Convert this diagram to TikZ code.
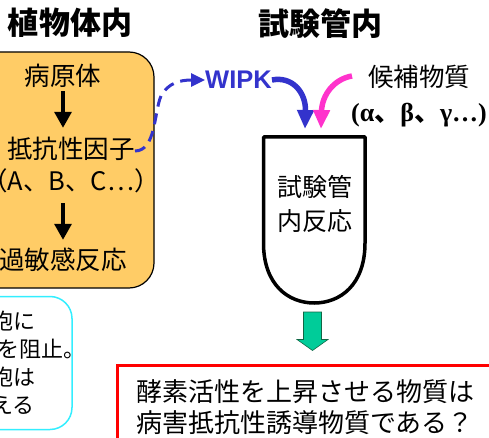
\documentclass[tikz,border=0pt]{standalone}
\usepackage{fontspec}
\setmainfont{Noto Sans CJK JP}
\newfontfamily\jp{Noto Sans CJK JP}
\newfontfamily\lsans{Liberation Sans}
\newfontfamily\lserif{Liberation Serif}
\usetikzlibrary{arrows.meta}
\definecolor{orangefill}{HTML}{FFCC66}
\definecolor{wipkblue}{HTML}{3333CC}
\definecolor{pinkarrow}{HTML}{FF33CC}
\definecolor{greenarrow}{HTML}{00CC99}
\definecolor{greenline}{HTML}{116644}
\definecolor{cyanline}{HTML}{33EEFF}
\definecolor{redline}{HTML}{FF0000}
\tikzset{
  titletxt/.style={font=\jp\bfseries\fontsize{31}{34}\selectfont, inner sep=0pt},
  bodytxt/.style={font=\jp\fontsize{25.5}{28}\selectfont, inner sep=0pt, text height=20pt, text depth=4pt},
  smalltxt/.style={font=\jp\fontsize{22}{26}\selectfont, inner sep=0pt, anchor=west},
  redtxt/.style={font=\jp\fontsize{26}{30}\selectfont, inner sep=0pt, anchor=west},
  blackarrow/.style={line width=3.3pt, -{Triangle[length=16pt,width=17pt]}},
  dasharrow/.style={wipkblue, line width=3pt, dash pattern=on 11pt off 7pt, -{Triangle[length=14pt,width=13pt]}},
  bluearrow/.style={wipkblue, line width=5.5pt, -{Triangle[length=19pt,width=16pt]}},
  pinkarr/.style={pinkarrow, line width=5.5pt, -{Triangle[length=19pt,width=16pt]}},
}
\begin{document}
\begin{tikzpicture}[x=1pt,y=-1pt]
\useasboundingbox (0,0) rectangle (489,438);
\clip (0,0) rectangle (489,438);

% titles
\node[titletxt] (t1) at (70,23) {植物体内};
\node[titletxt] (t2) at (320,23.5) {試験管内};

% orange box (plant)
\node[draw, fill=orangefill, line width=1.2pt, rounded corners=25pt,
      minimum width=180pt, minimum height=236pt, inner sep=0pt] (obox) at (64,170) {};
\node[bodytxt] (p1) at (63,78) {病原体};
\node[bodytxt] (p2) at (71,151) {抵抗性因子};
\node[bodytxt] (p3) at (71,182) {（A、B、C…）};
\node[bodytxt] (p4) at (63,261) {過敏感反応};
\draw[blackarrow, shorten <=1pt, shorten >=11pt] (p1.south) -- (p1.south |- p2.north);
\draw[blackarrow, shorten <=9pt, shorten >=9pt] (p4.north |- p3.south) -- (p4.north);

% cyan box
\node[draw=cyanline, line width=1.5pt, rounded corners=22pt,
      minimum width=110pt, minimum height=133pt, inner sep=0pt] (cbox) at (17,363) {};
\node[smalltxt] (c1) at (-9,321) {胞に};
\node[smalltxt] (c2) at (-3,349) {を阻止。};
\node[smalltxt] (c3) at (-9,377) {胞は};
\node[smalltxt] (c4) at (-9,405) {える};

% WIPK and candidates
\node[font=\lsans\bfseries\fontsize{25.5}{28}\selectfont, text=wipkblue, inner sep=0pt] (wipk) at (238.5,80) {WIPK};
\node[bodytxt] (cand) at (419,79) {候補物質};
\node[font=\lserif\bfseries\fontsize{26}{28}\selectfont, inner sep=0pt] (greek) at (419,115) {(α{\jp 、}β{\jp 、}γ…)};

% dashed arrow from resistance factor to WIPK
\draw[dasharrow] (p2.east) .. controls (156,151) and (154,112) .. (161,96)
                 .. controls (168,83) and (180,80) .. (wipk.west);

% test tube
\draw[line width=3.5pt, line join=round] (263.5,137) -- (365,137) -- (365,243)
   .. controls (365,285) and (340,303) .. (314.25,303)
   .. controls (288.5,303) and (263.5,285) .. (263.5,243) -- cycle;
\coordinate (bt) at (305,129);
\coordinate (pt) at (321,129);
\coordinate (pinkstart) at (352,76);
\node[bodytxt, align=center, font=\jp\fontsize{25}{34.5}\selectfont, text height=, text depth=] (tubetext) at (314.5,204) {試験管\\内反応};

% arrows into tube
\draw[bluearrow] (wipk.east) .. controls (292,76) and (306,92) .. (bt);
\draw[pinkarr] (pinkstart) .. controls (334,79) and (322,95) .. (pt);

% green block arrow
\fill[greenarrow, draw=greenline, line width=0.6pt]
  (303.5,312) -- (321.5,312) -- (321.5,339.5) -- (328,339.5) -- (312.5,350.5)
  -- (297,339.5) -- (303.5,339.5) -- cycle;

% red box
\node[draw=redline, line width=3pt, minimum width=400pt, minimum height=100pt, inner sep=0pt, anchor=north west] (rbox) at (115.5,364) {};
\node[redtxt] (r1) at (136,392) {酵素活性を上昇させる物質は};
\node[redtxt] (r2) at (136,423) {病害抵抗性誘導物質である？};
\end{tikzpicture}
\end{document}
